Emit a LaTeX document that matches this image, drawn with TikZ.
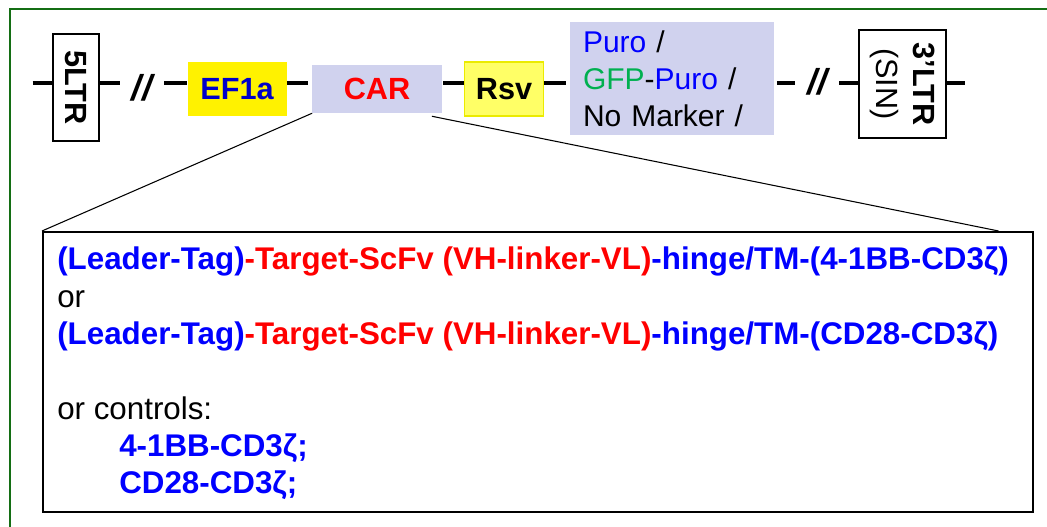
\documentclass[tikz,border=0pt]{standalone}
\usepackage{fontspec}
\setmainfont{Liberation Sans}
\usepackage{tikz}
\usetikzlibrary{calc}
\definecolor{vecblue}{RGB}{0,0,255}
\definecolor{efblue}{RGB}{0,0,200}
\definecolor{carred}{RGB}{255,0,0}
\definecolor{gfpgreen}{RGB}{0,176,80}
\definecolor{carbg}{RGB}{208,210,238}
\definecolor{rsvfill}{RGB}{255,255,102}
\definecolor{rsvline}{RGB}{235,235,0}
\definecolor{framegreen}{RGB}{20,110,20}
\newcommand{\vecfont}{\fontsize{23}{28}\selectfont}   % slide text size
\newcommand{\specfont}{\fontsize{23.5}{28}\selectfont}
\newcommand{\blu}[1]{\textcolor{vecblue}{#1}}
\newcommand{\rd}[1]{\textcolor{carred}{#1}}

\begin{document}
\begin{tikzpicture}[x=0.75pt, y=-0.75pt,
    every node/.style={font=\vecfont},
    backbone/.style={line width=3pt},
    ltrbox/.style={draw, fill=white, line width=1.5pt, rotate=-90, align=center, inner sep=0pt},
    cassette/.style={inner sep=0pt, font=\vecfont\bfseries},
    brk/.style={inner xsep=9pt, inner ysep=0pt, font=\fontsize{27}{28}\selectfont\bfseries\itshape},
    fan/.style={line width=0.8pt}]
\useasboundingbox (0,0) rectangle (1047,527);
\draw[framegreen, line width=1.6pt] (10,530) -- (10,9) -- (1050,9);

\coordinate (spine) at (0,83);
\coordinate (lend) at (32.7,83);
\coordinate (rend) at (965,83);

\node[ltrbox, minimum width=80.25pt, minimum height=34.5pt] (ltr5) at (76.3,87.5) {\textbf{5LTR}};
\node[brk] (brk1) at (142,88) {//};
\node[cassette, fill=yellow, minimum width=74.25pt, minimum height=40.5pt] (ef1a) at (237,89) {\textcolor{efblue}{EF1a}};
\node[cassette, fill=carbg, minimum width=97pt, minimum height=36pt] (car) at (377,89) {\rd{CAR}};
\node[cassette, fill=rsvfill, draw=rsvline, line width=1pt, minimum width=58.9pt, minimum height=40.5pt] (rsv) at (504,89) {Rsv};
\node[fill=carbg, align=left, text width=133.5pt, inner xsep=9.75pt, inner ysep=0pt, minimum height=84.75pt,
      font=\fontsize{22.5}{27.75}\selectfont] (marker) at (672,78.5)
    {\blu{Puro} /\\ \textcolor{gfpgreen}{GFP}-\blu{Puro} /\\ No Marker /};
\node[brk] (brk2) at (817,82) {//};
\node[ltrbox, minimum width=81pt, minimum height=65.25pt] (ltr3) at (902.5,84) {\textbf{3’LTR}\\(SIN)};

\draw[backbone] (lend) -- (ltr5.south |- spine);
\draw[backbone] (ltr5.north |- spine) -- (brk1.west |- spine);
\draw[backbone] (brk1.east |- spine) -- (ef1a.west |- spine);
\draw[backbone] (ef1a.east |- spine) -- ([xshift=-3pt]car.west |- spine);
\draw[backbone] ([xshift=1pt]car.east |- spine) -- (rsv.west |- spine);
\draw[backbone] (rsv.east |- spine) -- ([xshift=-3pt]marker.west |- spine);
\draw[backbone] ([xshift=2pt]marker.east |- spine) -- (brk2.west |- spine);
\draw[backbone] (brk2.east |- spine) -- (ltr3.south |- spine);
\draw[backbone] (ltr3.north |- spine) -- (rend);

\node[draw, line width=1.2pt, minimum width=742.5pt, minimum height=210pt, anchor=north west, inner sep=0pt] (detail) at (42,231) {};
\node[anchor=north west, align=left, inner sep=0pt, font=\specfont] (spec) at (57,247) {%
    \textbf{\blu{(Leader-Tag)}\rd{-Target-ScFv (VH-linker-VL)}\blu{-hinge/TM-(4-1BB-CD3ζ)}}\\
    or\\
    \textbf{\blu{(Leader-Tag)}\rd{-Target-ScFv (VH-linker-VL)}\blu{-hinge/TM-(CD28-CD3ζ)}}\\[28pt]
    or controls:\\
    \hspace*{46.5pt}\textbf{\blu{4-1BB-CD3ζ;}}\\
    \hspace*{46.5pt}\textbf{\blu{CD28-CD3ζ;}}};

\draw[fan] (car.south west) -- (detail.north west);
\draw[fan] ($(car.south east)+(-10,3)$) -- ($(detail.north east)+(-35,0)$);
\end{tikzpicture}
\end{document}
